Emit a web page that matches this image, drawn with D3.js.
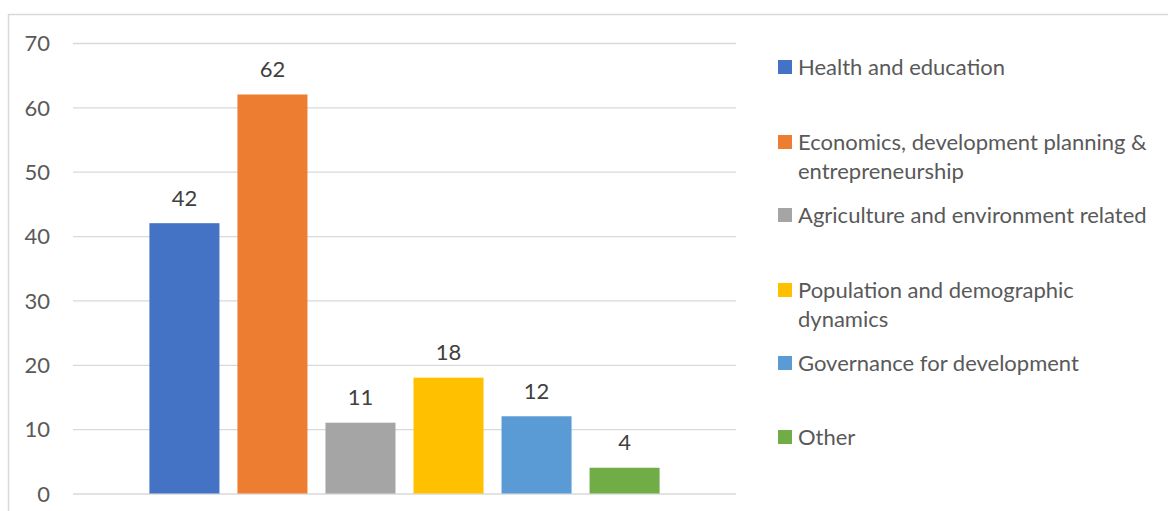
<!DOCTYPE html>
<meta charset="utf-8">
<style>
    body { margin: 0; background: #fff; }
    svg text { font-family: Lato, "Open Sans", sans-serif; }
    .tick text { font-size: 22px; fill: #595959; }
    .label { font-size: 22px; fill: #404040; text-anchor: middle; }
    .legend text { font-size: 22px; fill: #595959; }
</style>
<svg width="1168" height="511"></svg>
<script src="https://d3js.org/d3.v7.min.js"></script>
<script>
    var categories = ["Health and education", "Economics, development planning & entrepreneurship",
        "Agriculture and environment related", "Population and demographic dynamics",
        "Governance for development", "Other"];
    var values = [42, 62, 11, 18, 12, 4];
    var colors = ["#4472c4", "#ed7d31", "#a5a5a5", "#ffc000", "#5b9bd5", "#70ad47"];
    var legendLines = [["Health and education"], ["Economics, development planning &", "entrepreneurship"],
        ["Agriculture and environment related"], ["Population and demographic", "dynamics"],
        ["Governance for development"], ["Other"]];
    var yTicks = [0, 10, 20, 30, 40, 50, 60, 70];

    var svg = d3.select("svg");

    // chart frame (runs off the right and bottom edge)
    svg.append("rect")
        .attr("x", 8.5).attr("y", 14.5)
        .attr("width", 1200).attr("height", 600)
        .attr("fill", "none").attr("stroke", "#d9d9d9").attr("stroke-width", 1.5);

    var plotLeft = 73, plotRight = 736, plotTop = 43, plotBottom = 493.5;

    var y = d3.scaleLinear().domain([0, 70]).range([plotBottom, plotTop]);
    var x = d3.scaleBand().domain(categories).range([plotLeft, plotRight])
        .paddingInner(0.2045).paddingOuter(0.868);

    var yAxis = svg.append("g")
        .attr("transform", "translate(" + plotLeft + ",0)")
        .call(d3.axisLeft(y).tickValues(yTicks).tickSize(-(plotRight - plotLeft)).tickPadding(23));
    yAxis.select(".domain").remove();
    yAxis.selectAll(".tick line").attr("stroke", "#d9d9d9").attr("stroke-width", 1.3);
    yAxis.selectAll(".tick text").attr("dy", "0.35em");

    svg.selectAll(".bar")
        .data(values)
        .enter().append("rect")
        .attr("class", "bar")
        .attr("x", function(d, i) { return x(categories[i]); })
        .attr("width", x.bandwidth())
        .attr("y", function(d) { return y(d); })
        .attr("height", function(d) { return y(0) - y(d); })
        .attr("fill", function(d, i) { return colors[i]; });

    svg.selectAll(".label")
        .data(values)
        .enter().append("text")
        .attr("class", "label")
        .attr("x", function(d, i) { return x(categories[i]) + x.bandwidth() / 2; })
        .attr("y", function(d) { return y(d) - 17.5; })
        .text(function(d) { return d; });

    // legend
    var legendY = [67, 142, 215, 290, 363, 437];
    var legend = svg.selectAll(".legend")
        .data(categories)
        .enter().append("g")
        .attr("class", "legend")
        .attr("transform", function(d, i) { return "translate(778," + legendY[i] + ")"; });

    legend.append("rect")
        .attr("x", 0).attr("y", -7)
        .attr("width", 14).attr("height", 14)
        .attr("fill", function(d, i) { return colors[i]; });

    legend.append("text")
        .selectAll("tspan")
        .data(function(d, i) { return legendLines[i]; })
        .enter().append("tspan")
        .attr("x", 20)
        .attr("y", function(d, j) { return j * 29.5; })
        .attr("dy", "0.35em")
        .text(function(d) { return d; });
</script>
